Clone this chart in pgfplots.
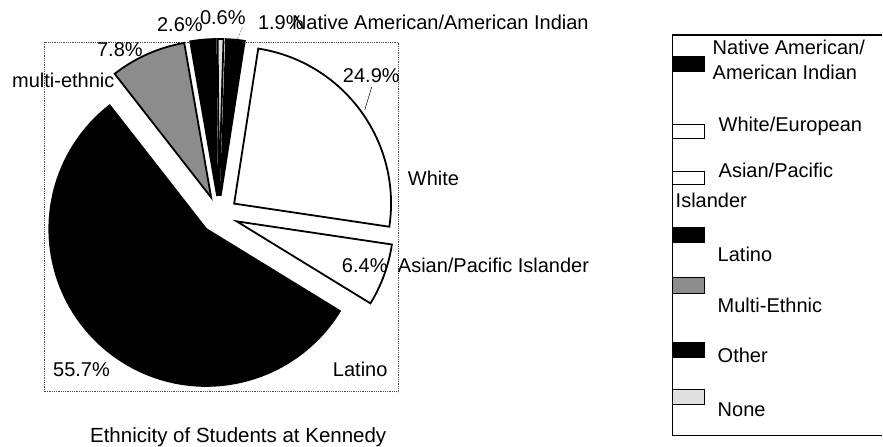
\documentclass[border=0pt]{standalone}
\usepackage{fontspec}
\setmainfont{Liberation Sans}
\usepackage{pgfplots}
\usepackage{pgfplotstable}
\pgfplotsset{compat=1.18}
\definecolor{multigray}{gray}{0.55}
\definecolor{nonegray}{gray}{0.88}

% share of students (percent), clockwise from 12 o'clock
\pgfplotstableread{
value color
1.9 black
24.9 white
6.4 white
55.7 black
7.8 multigray
2.6 black
0.6 nonegray
}\piedata

\begin{document}
\begin{tikzpicture}[every node/.style={font=\fontsize{20}{24}\selectfont, inner sep=0pt}]
\begin{axis}[
 width=883pt, height=447pt, scale only axis,
 xmin=0, xmax=883, ymin=0, ymax=447, y dir=reverse,
 hide axis, clip=false,
]
\path (axis cs:0,0) rectangle (axis cs:883,447);
% plot-area frame
\draw[gray!60!black, line width=0.8pt, densely dotted] (axis cs:44,42) rectangle (axis cs:398.5,392);
% pie wedges from the table
\pgfplotsextra{
 \pgfplotstablegetrowsof{\piedata}
 \pgfmathtruncatemacro\lastrow{\pgfplotsretval-1}
 \xdef\cum{0}
 \foreach \i in {0,...,\lastrow}{
   \pgfplotstablegetelem{\i}{value}\of\piedata \let\wval\pgfplotsretval
   \pgfplotstablegetelem{\i}{color}\of\piedata \let\wcol\pgfplotsretval
   \pgfmathsetmacro\aone{88-3.6*\cum}
   \pgfmathsetmacro\atwo{88-3.6*(\cum+\wval)}
   \pgfmathsetmacro\amid{(\aone+\atwo)/2}
   \filldraw[fill=\wcol, draw=black, line width=1.8pt, line join=miter]
     ([shift={(\amid:19pt)}]axis cs:219,215) -- ++(\aone:157pt)
       arc[start angle=\aone, end angle=\atwo, radius=157pt] -- cycle;
   \pgfmathsetmacro\newcum{\cum+\wval}
   \xdef\cum{\newcum}
 }
}
% leader lines
\draw[black, line width=0.5pt] (axis cs:372,87) -- (axis cs:365,110);
\draw[gray!50!black, line width=0.6pt, densely dotted] (axis cs:243,27) -- (axis cs:236,42);
% data labels
\node[anchor=base west] at (axis cs:157,32) {2.6\%};
\node[anchor=base west] at (axis cs:200,25) {0.6\%};
\node[anchor=base west] at (axis cs:258,30) {1.9\%};
\node[anchor=base west] at (axis cs:292,30) {Native American/American Indian};
\node[anchor=base west] at (axis cs:97,57) {7.8\%};
\node[anchor=base west] at (axis cs:12,88) {multi-ethnic};
\node[anchor=base west] at (axis cs:343,83) {24.9\%};
\node[anchor=base west] at (axis cs:408,186) {White};
\node[anchor=base west] at (axis cs:342,273) {6.4\%};
\node[anchor=base west] at (axis cs:398,273) {Asian/Pacific Islander};
\node[anchor=base west] at (axis cs:53,377) {55.7\%};
\node[anchor=base west] at (axis cs:333,377) {Latino};
% title
\node[anchor=base west, font=\fontsize{20.5}{24}\selectfont] at (axis cs:90,443) {Ethnicity of Students at Kennedy};
% legend box
\draw[black, line width=1.2pt] (axis cs:883,35) -- (axis cs:673,35) -- (axis cs:673,436) -- (axis cs:883,436);
\filldraw[fill=black, draw=black, line width=1pt] (axis cs:673,57) rectangle (axis cs:705,72);
\filldraw[fill=white, draw=black, line width=1pt] (axis cs:673,125) rectangle (axis cs:705,139);
\filldraw[fill=white, draw=black, line width=1pt] (axis cs:673,172) rectangle (axis cs:705,185);
\filldraw[fill=black, draw=black, line width=1pt] (axis cs:673,228) rectangle (axis cs:705,243);
\filldraw[fill=multigray, draw=black, line width=1pt] (axis cs:673,278) rectangle (axis cs:705,294);
\filldraw[fill=black, draw=black, line width=1pt] (axis cs:673,343) rectangle (axis cs:705,358);
\filldraw[fill=nonegray, draw=black, line width=1pt] (axis cs:673,390) rectangle (axis cs:705,405);
\node[anchor=base west] at (axis cs:713,55) {Native American/};
\node[anchor=base west] at (axis cs:713,80) {American Indian};
\node[anchor=base west] at (axis cs:719,132) {White/European};
\node[anchor=base west] at (axis cs:719,178) {Asian/Pacific};
\node[anchor=base west] at (axis cs:676,208) {Islander};
\node[anchor=base west] at (axis cs:718,262) {Latino};
\node[anchor=base west] at (axis cs:718,313) {Multi-Ethnic};
\node[anchor=base west] at (axis cs:718,363) {Other};
\node[anchor=base west] at (axis cs:718,417) {None};
\end{axis}
\end{tikzpicture}
\end{document}
